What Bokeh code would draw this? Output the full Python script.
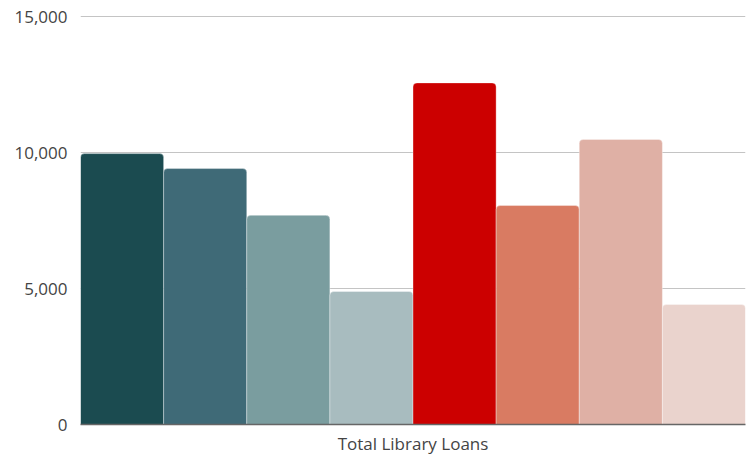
from bokeh.plotting import figure
from bokeh.models import ColumnDataSource, FixedTicker, NumeralTickFormatter, Range1d, FactorRange
from bokeh.transform import dodge
from bokeh.embed import file_html
from bokeh.resources import INLINE

category = ["Total Library Loans"]
series = ["S1", "S2", "S3", "S4", "S5", "S6", "S7", "S8"]
values = [9960, 9410, 7690, 4890, 12560, 8050, 10480, 4410]
colors = ["#1b4b50", "#3f6a77", "#7a9d9f", "#a8bcbf", "#cc0000", "#d97b62", "#dfb0a5", "#ead3cd"]
y_ticks = [0, 5000, 10000, 15000]

p = figure(x_range=FactorRange(*category, range_padding=0), y_range=Range1d(0, 15074),
           frame_width=665, frame_height=410,
           min_border_left=80, min_border_right=4, min_border_top=14, min_border_bottom=10,
           output_backend="svg", toolbar_location=None)

n = len(series)
w = 1.0 / n
for i, (s, v, c) in enumerate(zip(series, values, colors)):
    src = ColumnDataSource(dict(x=category, top=[v]))
    off = -0.5 + w * (i + 0.5)
    p.vbar(x=dodge("x", off, range=p.x_range), top="top", bottom=0, width=w, source=src,
           fill_color=c, line_color="white", line_alpha=0.35, line_width=1,
           border_radius=(4, 4, 0, 0))

p.outline_line_color = None
p.background_fill_color = "white"
p.xgrid.grid_line_color = None
p.ygrid.grid_line_color = "#c4c4c4"
p.ygrid.grid_line_width = 1
p.yaxis.ticker = FixedTicker(ticks=y_ticks)
p.yaxis.formatter = NumeralTickFormatter(format="0,0")
p.yaxis.axis_line_color = None
p.yaxis.major_tick_line_color = None
p.yaxis.minor_tick_line_color = None
p.yaxis.major_tick_out = 0
p.yaxis.major_label_standoff = 13
p.yaxis.major_label_text_font = "Open Sans"
p.yaxis.major_label_text_font_size = "17px"
p.yaxis.major_label_text_color = "#444444"

p.xaxis.axis_line_color = "#666666"
p.xaxis.axis_line_width = 1.5
p.xaxis.major_tick_line_color = None
p.xaxis.major_tick_out = 0
p.xaxis.major_label_standoff = 7
p.xaxis.major_label_text_font = "Open Sans"
p.xaxis.major_label_text_font_size = "17px"
p.xaxis.major_label_text_color = "#444444"

open("out.html", "w").write(file_html(p, INLINE))
